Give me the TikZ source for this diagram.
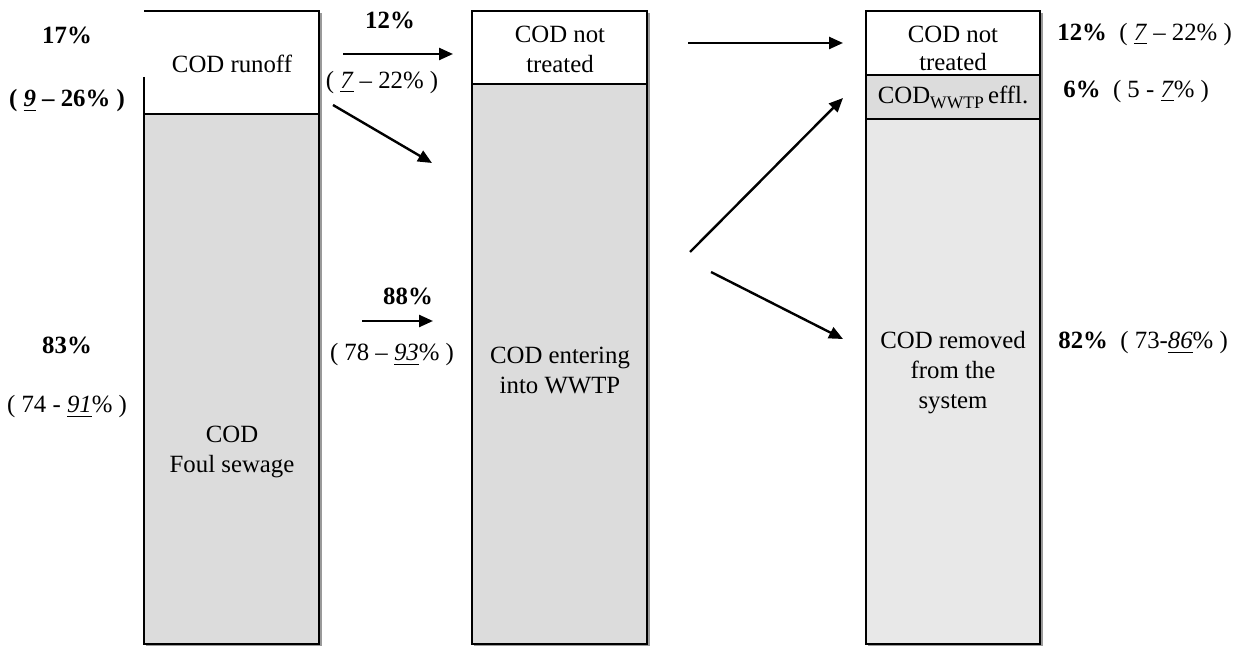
\documentclass[tikz,border=0pt]{standalone}
\usepackage{fontspec}
\setmainfont{Liberation Serif}
\usetikzlibrary{arrows.meta}
\definecolor{fillA}{HTML}{DCDCDC}
\definecolor{fillB}{HTML}{E8E8E8}
\definecolor{shade}{HTML}{9A9A9A}
\newcommand{\ul}[1]{\underline{\textit{#1}}}
\newcommand{\lowsub}[1]{\raisebox{-0.45ex}{\fontsize{8.8}{10}\selectfont #1}}
\begin{document}
\begin{tikzpicture}[x=0.5pt,y=-0.5pt,
  every node/.style={font=\fontsize{12.4}{15}\selectfont, inner sep=0pt},
  frame/.style={draw=black, line width=0.7pt},
  shadowline/.style={draw=shade, line width=0.8pt},
  txt/.style={align=center},
  lbl/.style={anchor=center},
  rlbl/.style={anchor=west},
  flow/.style={line width=1.2pt, -{Triangle[length=7pt,width=6pt]}}]
\useasboundingbox (0,0) rectangle (1240,646);

% soft shadows under the three columns
\foreach \a/\b in {144/319, 472/647, 866/1040}
  \draw[shadowline] (\a+2,646) -- (\b+2,646) -- (\b+2,13);

% column 1: runoff and foul sewage
\fill[white] (144,11) rectangle (319,114);
\draw[frame] (144,77) -- (144,114) -- (319,114) -- (319,11) -- (144,11);
\filldraw[frame, fill=fillA] (144,114) rectangle (319,644);
\node[txt] (runoff) at (232,64) {COD runoff};
\node[txt] (foul) at (232,452) {COD\\Foul sewage};

% column 2: untreated and WWTP inflow
\filldraw[frame, fill=white] (472,11) rectangle (647,84);
\filldraw[frame, fill=fillA] (472,84) rectangle (647,644);
\node[txt] (untreated1) at (560,49) {COD not\\treated};
\node[txt] (entering) at (560,370) {COD entering\\into WWTP};

% column 3: fate of COD
\filldraw[frame, fill=white] (866,11) rectangle (1040,75);
\filldraw[frame, fill=fillA] (866,75) rectangle (1040,119);
\filldraw[frame, fill=fillB] (866,119) rectangle (1040,644);
\node[txt, font=\fontsize{12.4}{14}\selectfont] (untreated2) at (953,48) {COD not\\treated};
\node[txt] (effl) at (953,97) {COD\lowsub{WWTP}\,effl.};
\node[txt] (removed) at (953,373) {COD removed\\from the\\system};

% shares on the left
\node[lbl] (p17) at (67,35) {\textbf{17\%}};
\node[lbl] (r17) at (67,101) {\textbf{( \ul{9} – 26\% )}};
\node[lbl] (p83) at (67,345) {\textbf{83\%}};
\node[lbl] (r83) at (67,407) {( 74 - \ul{91}\% )};

% shares between columns 1 and 2
\node[lbl] (p12a) at (390,20) {\textbf{12\%}};
\node[lbl] (r12a) at (382,83) {( \ul{7} – 22\% )};
\node[lbl] (p88) at (408,296) {\textbf{88\%}};
\node[lbl] (r88) at (392,355) {( 78 – \ul{93}\% )};

% shares on the right
\node[rlbl] (p12b) at (1057,35) {\textbf{12\%}\ \ ( \ul{7} – 22\% )};
\node[rlbl] (p6) at (1063,92) {\textbf{6\%}\ \ ( 5 - \ul{7}\% )};
\node[rlbl] (p82) at (1058,343) {\textbf{82\%}\ \ ( 73-\ul{86}\% )};

% arrow end points
\coordinate (a1s) at (343,54);  \coordinate (a1e) at (453,54);
\coordinate (a2s) at (333,105); \coordinate (a2e) at (432,163);
\coordinate (a3s) at (362,321); \coordinate (a3e) at (433,321);
\coordinate (a4s) at (688,43);  \coordinate (a4e) at (843,43);
\coordinate (a5s) at (690,252); \coordinate (a5e) at (843,98);
\coordinate (a6s) at (711,272); \coordinate (a6e) at (843,339);

\draw[flow] (a1s) -- (a1e);
\draw[flow] (a2s) -- (a2e);
\draw[flow] (a3s) -- (a3e);
\draw[flow] (a4s) -- (a4e);
\draw[flow] (a5s) -- (a5e);
\draw[flow] (a6s) -- (a6e);
\end{tikzpicture}
\end{document}
